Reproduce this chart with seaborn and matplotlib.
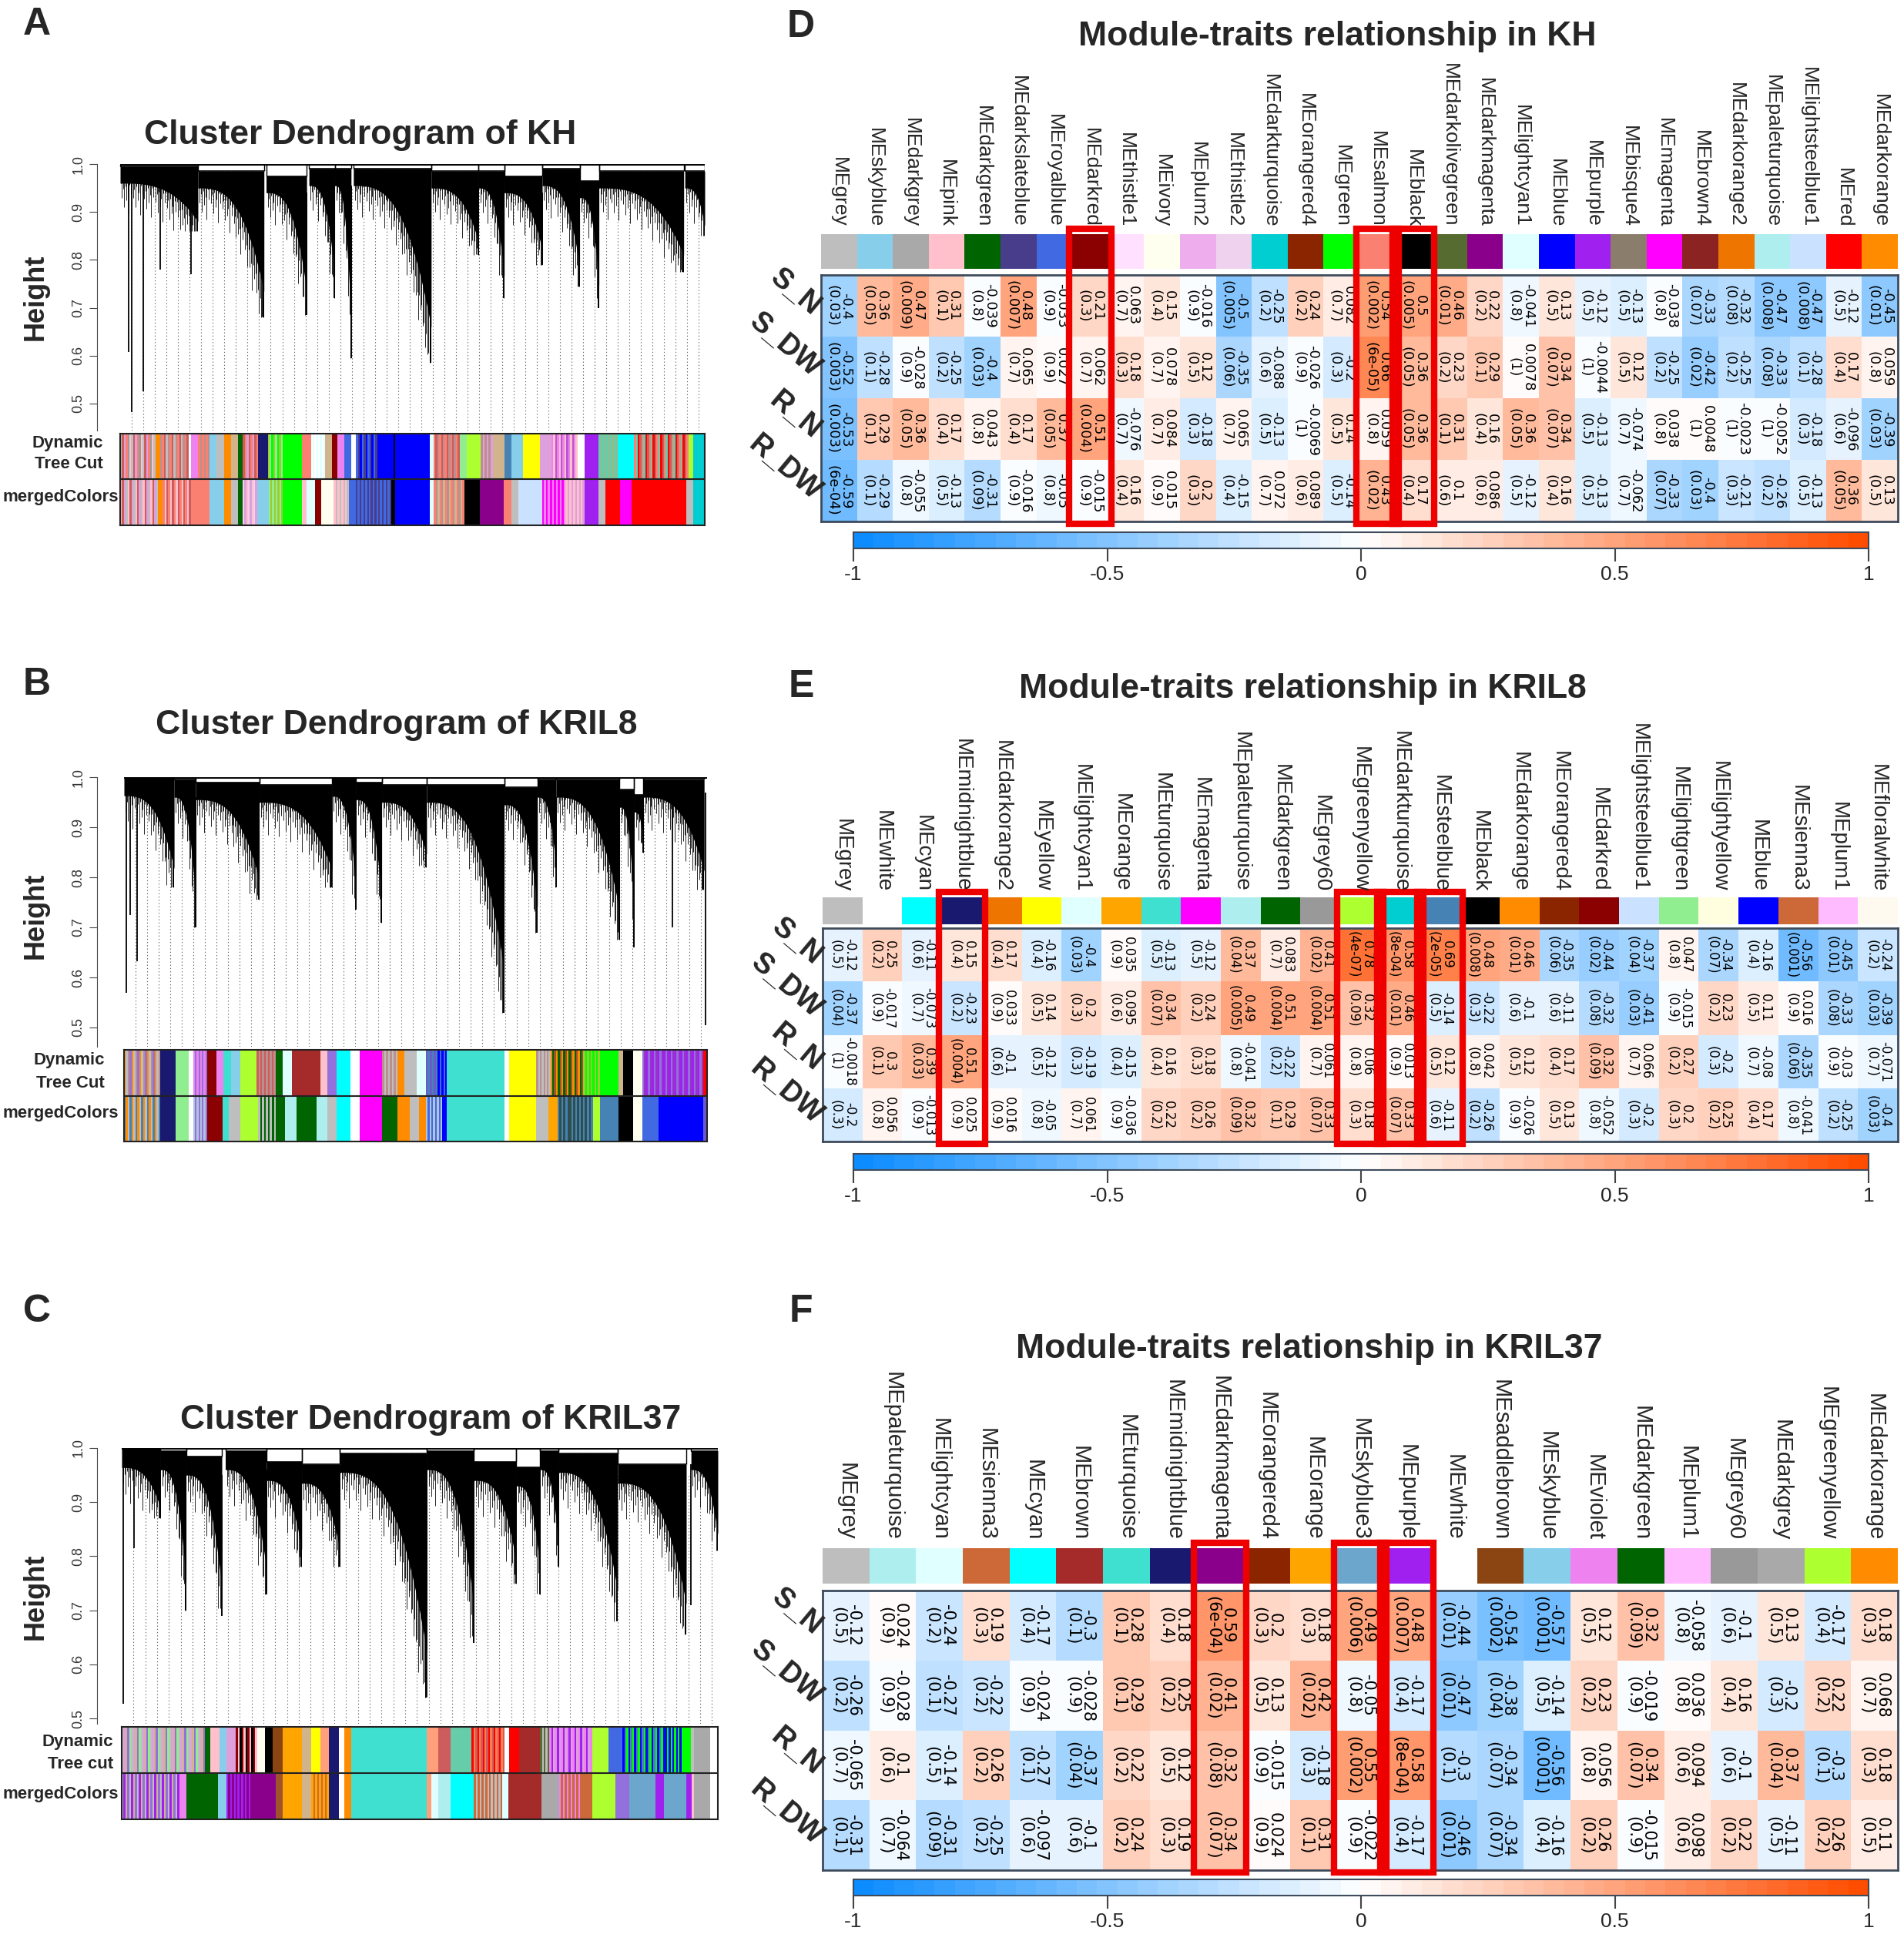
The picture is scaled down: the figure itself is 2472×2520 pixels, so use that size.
import numpy as np
import pandas as pd
import seaborn as sns
import matplotlib
matplotlib.use("Agg")
import matplotlib.pyplot as plt
from matplotlib.colors import LinearSegmentedColormap
from matplotlib.patches import Rectangle

# ---------------- module-trait data ----------------
traits = ["S_N", "S_DW", "R_N", "R_DW"]

kh_modules = ["MEgrey", "MEskyblue", "MEdarkgrey", "MEpink", "MEdarkgreen", "MEdarkslateblue",
              "MEroyalblue", "MEdarkred", "MEthistle1", "MEivory", "MEplum2", "MEthistle2",
              "MEdarkturquoise", "MEorangered4", "MEgreen", "MEsalmon", "MEblack",
              "MEdarkolivegreen", "MEdarkmagenta", "MElightcyan1", "MEblue", "MEpurple",
              "MEbisque4", "MEmagenta", "MEbrown4", "MEdarkorange2", "MEpaleturquoise",
              "MElightsteelblue1", "MEred", "MEdarkorange"]
kh_cor = [
    [-0.4, 0.36, 0.47, 0.31, -0.039, 0.48, -0.033, 0.21, 0.063, 0.15, -0.016, -0.5, -0.25, 0.24, 0.082,
     0.54, 0.5, 0.46, 0.22, -0.041, 0.13, -0.12, -0.13, -0.038, -0.33, -0.32, -0.47, -0.47, -0.12, -0.45],
    [-0.52, -0.28, -0.028, -0.25, -0.4, 0.065, 0.027, 0.062, 0.18, 0.078, 0.12, -0.35, -0.088, -0.026, -0.2,
     0.66, 0.36, 0.23, 0.29, 0.0078, 0.34, -0.0044, 0.12, -0.25, -0.42, -0.25, -0.33, -0.28, 0.17, 0.059],
    [-0.53, 0.29, 0.36, 0.17, 0.043, 0.17, 0.37, 0.51, -0.076, 0.084, -0.18, 0.065, -0.13, -0.0069, 0.14,
     0.059, 0.36, 0.31, 0.16, 0.36, 0.34, -0.13, -0.074, 0.038, 0.0048, -0.0023, -0.0052, -0.18, -0.096, -0.39],
    [-0.59, -0.29, -0.055, -0.13, -0.31, -0.016, -0.05, -0.015, 0.16, 0.015, 0.2, -0.15, 0.072, 0.089, -0.14,
     0.43, 0.17, 0.1, 0.086, -0.12, 0.16, -0.13, -0.062, -0.33, -0.4, -0.21, -0.26, -0.13, 0.36, 0.13],
]
kh_p = [
    ["0.03", "0.05", "0.009", "0.1", "0.8", "0.007", "0.9", "0.3", "0.7", "0.4", "0.9", "0.005", "0.2", "0.2", "0.7",
     "0.002", "0.005", "0.01", "0.2", "0.8", "0.5", "0.5", "0.5", "0.8", "0.07", "0.08", "0.008", "0.008", "0.5", "0.01"],
    ["0.003", "0.1", "0.9", "0.2", "0.03", "0.7", "0.9", "0.7", "0.3", "0.7", "0.5", "0.06", "0.6", "0.9", "0.3",
     "6e-05", "0.05", "0.2", "0.1", "1", "0.07", "1", "0.5", "0.2", "0.02", "0.2", "0.08", "0.1", "0.4", "0.8"],
    ["0.003", "0.1", "0.05", "0.4", "0.8", "0.4", "0.05", "0.004", "0.7", "0.7", "0.3", "0.7", "0.5", "1", "0.5",
     "0.8", "0.05", "0.1", "0.4", "0.05", "0.07", "0.5", "0.7", "0.8", "1", "1", "1", "0.3", "0.6", "0.03"],
    ["6e-04", "0.1", "0.8", "0.5", "0.09", "0.9", "0.8", "0.9", "0.4", "0.9", "0.3", "0.4", "0.7", "0.6", "0.5",
     "0.02", "0.4", "0.6", "0.6", "0.5", "0.4", "0.5", "0.7", "0.07", "0.03", "0.3", "0.2", "0.5", "0.05", "0.5"],
]
kh_boxes = [[7], [15], [16]]

kril8_modules = ["MEgrey", "MEwhite", "MEcyan", "MEmidnightblue", "MEdarkorange2", "MEyellow",
                 "MElightcyan1", "MEorange", "MEturquoise", "MEmagenta", "MEpaleturquoise", "MEdarkgreen",
                 "MEgrey60", "MEgreenyellow", "MEdarkturquoise", "MEsteelblue", "MEblack", "MEdarkorange",
                 "MEorangered4", "MEdarkred", "MElightsteelblue1", "MElightgreen", "MElightyellow",
                 "MEblue", "MEsienna3", "MEplum1", "MEfloralwhite"]
kril8_cor = [
    [-0.12, 0.25, -0.11, 0.15, 0.17, -0.16, -0.4, 0.035, -0.13, -0.12, 0.37, 0.083, 0.41, 0.78,
     0.58, 0.69, 0.48, 0.46, -0.35, -0.44, -0.37, 0.047, -0.34, -0.16, -0.56, -0.45, -0.24],
    [-0.37, -0.017, -0.073, -0.23, 0.033, 0.14, 0.2, 0.095, 0.34, 0.24, 0.49, 0.51, 0.51, 0.32,
     0.46, -0.14, -0.22, -0.1, -0.11, -0.32, -0.41, -0.015, 0.23, 0.11, 0.016, -0.33, -0.39],
    [-0.0018, 0.3, 0.39, 0.51, -0.1, -0.12, -0.19, -0.15, 0.16, 0.18, -0.041, -0.22, 0.061, 0.06,
     0.013, 0.12, 0.042, 0.12, 0.17, 0.32, 0.066, 0.27, -0.2, -0.08, -0.35, -0.03, -0.071],
    [-0.2, 0.056, -0.013, 0.025, 0.016, -0.05, 0.061, -0.036, 0.22, 0.26, 0.32, 0.29, 0.33, 0.18,
     0.33, -0.11, -0.26, -0.026, 0.13, -0.052, -0.2, 0.2, 0.25, 0.17, -0.041, -0.25, -0.4],
]
kril8_p = [
    ["0.5", "0.2", "0.6", "0.4", "0.4", "0.4", "0.03", "0.9", "0.5", "0.5", "0.04", "0.7", "0.02", "4e-07",
     "8e-04", "2e-05", "0.008", "0.01", "0.06", "0.02", "0.04", "0.8", "0.07", "0.4", "0.001", "0.01", "0.2"],
    ["0.04", "0.9", "0.7", "0.2", "0.9", "0.5", "0.3", "0.6", "0.07", "0.2", "0.005", "0.004", "0.004", "0.09",
     "0.01", "0.5", "0.3", "0.6", "0.6", "0.08", "0.03", "0.9", "0.2", "0.5", "0.9", "0.08", "0.03"],
    ["1", "0.1", "0.03", "0.004", "0.6", "0.5", "0.3", "0.4", "0.4", "0.3", "0.8", "0.2", "0.7", "0.8",
     "0.9", "0.5", "0.8", "0.5", "0.4", "0.09", "0.7", "0.2", "0.3", "0.7", "0.06", "0.9", "0.7"],
    ["0.3", "0.8", "0.9", "0.9", "0.9", "0.8", "0.7", "0.9", "0.2", "0.2", "0.09", "0.1", "0.07", "0.3",
     "0.07", "0.6", "0.2", "0.9", "0.5", "0.8", "0.3", "0.3", "0.2", "0.4", "0.8", "0.2", "0.03"],
]
kril8_boxes = [[3], [13], [14], [15]]

kril37_modules = ["MEgrey", "MEpaleturquoise", "MElightcyan", "MEsienna3", "MEcyan", "MEbrown",
                  "MEturquoise", "MEmidnightblue", "MEdarkmagenta", "MEorangered4", "MEorange",
                  "MEskyblue3", "MEpurple", "MEwhite", "MEsaddlebrown", "MEskyblue", "MEviolet",
                  "MEdarkgreen", "MEplum1", "MEgrey60", "MEdarkgrey", "MEgreenyellow", "MEdarkorange"]
kril37_cor = [
    [-0.12, 0.024, -0.24, 0.19, -0.17, -0.3, 0.28, 0.18, 0.59, 0.2, 0.18, 0.49, 0.48, -0.44, -0.54,
     -0.57, 0.12, 0.32, -0.058, -0.1, 0.13, -0.17, 0.18],
    [-0.26, -0.028, -0.27, -0.22, -0.024, -0.028, 0.29, 0.25, 0.41, 0.13, 0.42, -0.05, -0.17, -0.47, -0.38,
     -0.14, 0.23, -0.019, 0.036, 0.16, -0.2, 0.22, 0.068],
    [-0.065, 0.1, -0.14, 0.26, -0.27, -0.37, 0.22, 0.12, 0.32, -0.015, -0.18, 0.55, 0.58, -0.3, -0.34,
     -0.56, 0.056, 0.34, 0.094, -0.1, 0.37, -0.3, 0.18],
    [-0.31, -0.064, -0.31, -0.25, -0.097, -0.1, 0.24, 0.19, 0.34, 0.024, 0.31, -0.022, -0.17, -0.46, -0.34,
     -0.16, 0.26, -0.015, 0.098, 0.22, -0.11, 0.26, 0.11],
]
kril37_p = [
    ["0.5", "0.9", "0.2", "0.3", "0.4", "0.1", "0.1", "0.4", "6e-04", "0.3", "0.3", "0.006", "0.007", "0.01",
     "0.002", "0.001", "0.5", "0.09", "0.8", "0.6", "0.5", "0.4", "0.3"],
    ["0.2", "0.9", "0.1", "0.2", "0.9", "0.9", "0.1", "0.2", "0.02", "0.5", "0.02", "0.8", "0.4", "0.01",
     "0.04", "0.5", "0.2", "0.9", "0.8", "0.4", "0.3", "0.2", "0.7"],
    ["0.7", "0.6", "0.5", "0.2", "0.1", "0.04", "0.2", "0.5", "0.08", "0.9", "0.3", "0.002", "8e-04", "0.1",
     "0.07", "0.001", "0.8", "0.07", "0.6", "0.6", "0.04", "0.1", "0.3"],
    ["0.1", "0.7", "0.09", "0.2", "0.6", "0.6", "0.2", "0.3", "0.07", "0.9", "0.1", "0.9", "0.4", "0.01",
     "0.07", "0.4", "0.2", "0.9", "0.6", "0.2", "0.5", "0.2", "0.5"],
]
kril37_boxes = [[8], [11], [12]]

# ---------------- dendrogram data ----------------
# branches: (start, end) as fraction of leaves, merge height, lowest leaf height
kh_branches = [(0.0, 0.133, 0.995, 0.86), (0.133, 0.246, 0.985, 0.68), (0.250, 0.319, 0.975, 0.685),
               (0.323, 0.367, 0.99, 0.72), (0.367, 0.395, 0.99, 0.595), (0.399, 0.532, 0.99, 0.585),
               (0.532, 0.613, 0.985, 0.81), (0.613, 0.657, 0.985, 0.72), (0.657, 0.722, 0.975, 0.79),
               (0.722, 0.786, 0.99, 0.745), (0.786, 0.819, 0.965, 0.70), (0.819, 0.964, 0.985, 0.775),
               (0.966, 1.0, 0.985, 0.85)]
kh_single = [(0.015, 0.608), (0.020, 0.483), (0.040, 0.526), (0.069, 0.78), (0.121, 0.77)]

kril8_branches = [(0.0, 0.086, 0.998, 0.78), (0.086, 0.123, 0.995, 0.70), (0.123, 0.232, 0.99, 0.755),
                  (0.232, 0.357, 0.985, 0.78), (0.357, 0.398, 0.997, 0.735), (0.398, 0.442, 0.99, 0.71),
                  (0.442, 0.519, 0.985, 0.82), (0.519, 0.652, 0.985, 0.53), (0.652, 0.709, 0.98, 0.69),
                  (0.709, 0.741, 0.995, 0.78), (0.741, 0.850, 0.995, 0.675), (0.850, 0.875, 0.975, 0.66),
                  (0.875, 0.891, 0.965, 0.85), (0.891, 0.995, 0.995, 0.775)]
kril8_single = [(0.004, 0.569), (0.011, 0.725), (0.022, 0.632), (0.941, 0.70), (0.998, 0.505)]

kril37_branches = [(0.0, 0.065, 0.999, 0.87), (0.065, 0.108, 0.995, 0.70), (0.108, 0.168, 0.985, 0.69),
                   (0.174, 0.243, 0.995, 0.73), (0.243, 0.302, 0.975, 0.78), (0.302, 0.366, 0.97, 0.78),
                   (0.366, 0.512, 0.99, 0.538), (0.512, 0.591, 0.995, 0.64), (0.591, 0.662, 0.975, 0.75),
                   (0.662, 0.702, 0.965, 0.73), (0.702, 0.733, 0.995, 0.78), (0.733, 0.832, 0.99, 0.68),
                   (0.832, 0.947, 0.97, 0.655), (0.955, 1.0, 0.995, 0.81)]
kril37_single = [(0.003, 0.527), (0.021, 0.815), (0.955, 0.71)]

# colour bands: (colour or "a|b|c" for a run of thin stripes, relative width)
kh_dynamic = [("grey|indianred|plum|salmon|grey60|pink", 75), ("darkorange", 10),
              ("rosybrown|salmon|indianred|grey", 60), ("white", 5), ("violet", 15), ("salmon|rosybrown", 25),
              ("skyblue", 15), ("grey", 15), ("darkorange", 15), ("tan", 15), ("darkgreen", 10),
              ("indianred|salmon|plum", 33), ("midnightblue", 20), ("yellowgreen|lightgreen|green", 32),
              ("green", 40), ("salmon", 20), ("white|lightcyan", 30), ("tan", 15), ("darkred", 10),
              ("violet", 15), ("royalblue", 15), ("white", 10), ("royalblue|darkslateblue|blue", 45),
              ("blue", 35), ("black", 3), ("blue", 74), ("lightcyan", 8), ("salmon|indianred|rosybrown", 55),
              ("lightgreen", 15), ("greenyellow", 30), ("rosybrown|plum", 25), ("tan", 25), ("steelblue", 15),
              ("skyblue", 25), ("yellow", 35), ("plum", 25), ("violet|pink|mediumorchid", 55), ("white", 15),
              ("purple", 30), ("mediumaquamarine|darkseagreen", 40), ("cyan", 35),
              ("salmon|mediumaquamarine|red|indianred", 115), ("greenyellow", 10), ("darkturquoise", 25)]
kh_merged = [("pink|indianred|plum|grey", 80), ("darkorange", 10), ("salmon|pink|indianred", 60),
             ("salmon", 40), ("skyblue", 30), ("darkorange", 15), ("grey", 15), ("darkgreen", 10),
             ("thistle2|plum|pink", 30), ("skyblue", 25), ("lightgreen|yellowgreen", 30), ("green", 40),
             ("pink", 10), ("lightcyan", 18), ("darkred", 14), ("ivory", 26), ("pink|grey", 32),
             ("royalblue", 15), ("darkslateblue|royalblue", 75), ("black", 8), ("blue", 74), ("lightcyan", 8),
             ("salmon|rosybrown|tan", 65), ("black", 33), ("darkmagenta", 50), ("salmon", 17), ("grey", 15),
             ("lightsteelblue1", 50), ("magenta|violet", 50), ("pink|plum", 40), ("purple", 30), ("grey", 15),
             ("red", 30), ("magenta", 25), ("red", 115), ("grey", 15), ("darkturquoise", 25)]

kril8_dynamic = [("darkorange|grey|rosybrown|mediumpurple", 77), ("midnightblue", 32), ("lightgreen", 28),
                 ("white", 10), ("violet|mediumpurple", 30), ("darkred", 20), ("violet", 15), ("turquoise", 15),
                 ("skyblue", 20), ("greenyellow", 35), ("indianred|rosybrown", 40), ("darkgreen", 15),
                 ("lightcyan", 20), ("brown", 60), ("pink", 15), ("mediumpurple", 20), ("cyan", 30),
                 ("white", 20), ("magenta", 47), ("rosybrown|grey", 33), ("darkorange", 15), ("grey", 25),
                 ("lightcyan", 20), ("slateblue|steelblue", 25), ("blue|royalblue", 20), ("turquoise", 122),
                 ("white", 10), ("yellow", 58), ("rosybrown|grey", 30), ("darkorange|darkgreen|sienna", 70),
                 ("yellowgreen|green", 35), ("green", 40), ("tan", 10), ("black", 20), ("ivory", 20),
                 ("mediumpurple|darkorchid|purple", 130), ("red", 8)]
kril8_merged = [("steelblue|darkorange|grey", 77), ("midnightblue", 32), ("lightgreen", 28), ("white", 10),
                ("lightsteelblue|mediumpurple", 30), ("darkred", 32), ("turquoise", 13), ("grey", 25),
                ("greenyellow", 38), ("grey|darkgreen", 42), ("darkgreen", 15), ("paleturquoise", 25),
                ("darkgreen", 42), ("paleturquoise", 23), ("grey", 20), ("cyan", 30), ("white", 20),
                ("magenta", 47), ("darkgreen", 33), ("darkorange", 25), ("grey", 20), ("darkorange", 15),
                ("lightsteelblue|royalblue", 35), ("blue", 10), ("turquoise", 122), ("white", 10),
                ("yellow", 58), ("grey", 25), ("orange", 20), ("steelblue|darkslategray", 25),
                ("darkslategray|steelblue", 50), ("greenyellow", 15), ("steelblue", 40), ("black", 30),
                ("ivory", 20), ("royalblue", 35), ("blue", 95), ("slateblue", 8)]

kril37_dynamic = [("grey|plum|tan|mediumpurple|lightgreen", 177), ("darkgreen", 10), ("pink", 20),
                  ("skyblue", 15), ("plum", 20), ("darkred|pink|black", 45), ("ivory", 17), ("black", 16),
                  ("saddlebrown", 22), ("orange", 40), ("tan", 20), ("yellow", 20), ("lightsalmon", 17),
                  ("midnightblue", 21), ("white", 12), ("darkorange", 15), ("turquoise", 160),
                  ("lightsalmon", 25), ("indianred", 25), ("mediumaquamarine", 45), ("red|coral|indianred", 70),
                  ("white", 10), ("red", 20), ("brown", 45), ("darkolivegreen|grey", 20),
                  ("violet|purple|plum", 90), ("greenyellow", 35), ("royalblue", 30),
                  ("blue|steelblue|green", 90), ("blue|green", 35), ("green", 20), ("grey", 7),
                  ("darkgrey", 33), ("white", 17)]
kril37_merged = [("grey|purple|tan|mediumpurple", 122), ("violet", 15), ("darkgreen", 67), ("skyblue", 18),
                 ("purple|darkmagenta", 55), ("darkmagenta", 50), ("sienna", 15), ("orange", 40), ("tan", 20),
                 ("orange|sienna3", 37), ("midnightblue", 21), ("white", 12), ("darkorange", 15),
                 ("turquoise", 160), ("lightsalmon", 10), ("lightcyan", 15), ("paleturquoise", 25),
                 ("cyan", 50), ("sienna3|grey", 60), ("lightcyan", 13), ("brown", 70), ("darkgrey", 37),
                 ("violet|sienna3", 45), ("sienna3", 25), ("greenyellow", 50), ("mediumpurple", 30),
                 ("skyblue3", 55), ("purple", 17), ("skyblue3", 48), ("purple", 12), ("pink", 5),
                 ("darkgrey", 33), ("white", 17)]

# R colour names that differ from / are missing in matplotlib
R_COLS = {"grey": "#BEBEBE", "green": "#00FF00", "purple": "#A020F0", "grey60": "#999999",
          "thistle1": "#FFE1FF", "thistle2": "#EED2EE", "plum1": "#FFBBFF", "plum2": "#EEAEEE",
          "orangered4": "#8B2500", "lightcyan1": "#E0FFFF", "bisque4": "#8B7D6B", "brown4": "#8B2323",
          "darkorange2": "#EE7600", "lightsteelblue1": "#CAE1FF", "sienna3": "#CD6839", "skyblue3": "#6CA6CD"}


def rcol(name):
    return R_COLS.get(name, name)


# ---------------- figure ----------------
sns.set_style("white")
plt.rcParams["font.family"] = ["Liberation Sans", "DejaVu Sans"]
plt.rcParams["axes.unicode_minus"] = False

W, H = 2472, 2520
fig = plt.figure(figsize=(W / 100, H / 100), dpi=100)
fig.patch.set_facecolor("white")

cmap = LinearSegmentedColormap.from_list("bwr_wgcna", [(0.05, 0.55, 1.0), (1, 1, 1), (1.0, 0.3, 0.0)], N=50)


def add_ax(x0, y0, x1, y1):
    return fig.add_axes([x0 / W, 1 - y1 / H, (x1 - x0) / W, (y1 - y0) / H])


def ftext(x, y, s, **kw):
    return fig.text(x / W, 1 - y / H, s, **kw)


def stripes(segs):
    total = float(sum(w for _, w in segs))
    out = []
    pos = 0.0
    for spec, w in segs:
        cols = spec.split("|")
        n = 1 if len(cols) == 1 else max(len(cols), int(round(w / 4)))
        for k in range(n):
            out.append((pos / total, w / n / total, rcol(cols[k % len(cols)])))
            pos += w / n
    return out


# hair lengths below the solid part of a branch (drawing texture only)
HAIR = [0.0, 0.03, 0.012, 0.05, 0.006, 0.035, 0.018, 0.065, 0.003, 0.022]


def dendro_panel(lay, branches, single, title, dyn, mer, cut_label, letter):
    x_axis, x0, x1, y10, per = lay["axis"], lay["x0"], lay["x1"], lay["y10"], lay["per"]
    bt, bm, bb = lay["bands"]
    ytop = 1.004
    ybot = 1 - (bt - 4 - y10) / (per * 10)
    ax = add_ax(x_axis, y10 - (ytop - 1) * per * 10, x1, bt - 4)
    ax.set_xlim(-(x0 - x_axis) / (x1 - x0), 1.0)
    ax.set_ylim(ybot, ytop)

    guides = np.linspace(0.02, 0.99, 50)
    ax.vlines(guides, ybot, 0.95, colors="#666666", linestyles=(0, (1.2, 2.6)), linewidth=0.8, zorder=0)
    root = 0.998
    ax.hlines(root, 0, 1, colors="black", linewidth=1.4)
    for a, b, m, low in branches:
        d0 = min(0.035, (m - low) * 0.3)
        span = m - d0 - low
        u = np.linspace(0, 1, 80)
        solid = (m - d0) - span * 0.8 * u ** 3
        ax.fill_between(a + (b - a) * u, solid, m, color="black", linewidth=0, zorder=2)
        n = max(8, int((b - a) * 520))
        uk = (np.arange(n) + 0.5) / n
        hb = (m - d0) - span * uk ** 3 - np.array([HAIR[k % len(HAIR)] for k in range(n)])
        ax.vlines(a + (b - a) * uk, np.maximum(hb, low), m, colors="black", linewidth=0.6, zorder=2)
        ax.vlines(b - (b - a) * 0.01, low, m - d0, colors="black", linewidth=1.4, zorder=2)
        ax.hlines(m, a, b, colors="black", linewidth=1.2, zorder=2)
        ax.vlines([a, b], m, root, colors="black", linewidth=1.0, zorder=2)
    for sx, sl in single:
        ax.vlines(sx, sl, 0.97, colors="black", linewidth=1.3, zorder=2)

    for s in ["top", "right", "bottom"]:
        ax.spines[s].set_visible(False)
    ax.spines["left"].set_bounds(ybot, 1.0)
    ax.spines["left"].set_color("#444444")
    ax.set_xticks([])
    ticks = [0.5, 0.6, 0.7, 0.8, 0.9, 1.0]
    ax.set_yticks(ticks)
    ax.set_yticklabels([f"{t:.1f}" for t in ticks], rotation=90, va="center", fontsize=13, color="#333333")
    ax.tick_params(axis="y", length=7, color="#444444", pad=4, left=True)

    axb = add_ax(x0, bt, x1, bb)
    for row, segs in ((1, dyn), (0, mer)):
        st = stripes(segs)
        axb.bar([s[0] for s in st], 1, width=[s[1] for s in st], bottom=row, align="edge",
                color=[s[2] for s in st], linewidth=0)
    axb.set_xlim(0, 1)
    axb.set_ylim(0, 2)
    axb.axhline(1, color="#222222", linewidth=1.5)
    axb.set_xticks([])
    axb.set_yticks([])
    for s in axb.spines.values():
        s.set_color("#222222")
        s.set_linewidth(1.5)

    ftext(lay["title_x"], lay["title_y"], title, ha="center", va="center", fontsize=32, fontweight="bold")
    ftext(46, lay["height_y"], "Height", rotation=90, ha="center", va="center", fontsize=26, fontweight="bold")
    ftext(lay["dyn_x"], lay["lab_y"][0], "Dynamic", ha="right", va="center", fontsize=16, fontweight="bold")
    ftext(lay["dyn_x"], lay["lab_y"][1], cut_label, ha="right", va="center", fontsize=16, fontweight="bold")
    ftext(154, lay["lab_y"][2], "mergedColors", ha="right", va="center", fontsize=16, fontweight="bold")
    ftext(48, lay["letter_y"], letter, ha="center", va="center", fontsize=36, fontweight="bold")


def trait_panel(lay, modules, cor, pvals, boxes, title, letter):
    n = len(modules)
    x0, x1 = lay["x0"], lay["x1"]
    cw = (x1 - x0) / n
    c0, c1 = lay["color"]
    h0, h1 = lay["cells"]
    rh = (h1 - h0) / len(traits)

    axc = add_ax(x0, c0, x1, c1)
    axc.bar(np.arange(n), 1, width=1, align="edge", color=[rcol(m[2:]) for m in modules], linewidth=0)
    axc.set_xlim(0, n)
    axc.set_ylim(0, 1)
    axc.axis("off")

    df = pd.DataFrame(cor, index=traits, columns=modules)
    annot = np.array([[f"{v:.2g}\n({p})" for v, p in zip(rv, rp)] for rv, rp in zip(cor, pvals)])
    axh = add_ax(x0, h0, x1, h1)
    sns.heatmap(df, ax=axh, cmap=cmap, vmin=-1, vmax=1, cbar=False, annot=annot, fmt="",
                annot_kws=dict(rotation=-90, fontsize=lay["cell_fs"], color="black", linespacing=1.0,
                               family="DejaVu Sans"),
                xticklabels=False, yticklabels=False)
    for s in axh.spines.values():
        s.set_visible(True)
        s.set_color("#3d4b5c")
        s.set_linewidth(2)

    for i, t in enumerate(traits):
        ftext(x0 - 5, h0 + (i + 0.5) * rh + 6, t, rotation=-40, rotation_mode="anchor",
              ha="right", va="center", fontsize=27, fontweight="bold")
    for j, m in enumerate(modules):
        ftext(x0 + (j + 0.5) * cw, lay["lab_bottom"], m, rotation=-90, rotation_mode="anchor",
              ha="right", va="center", fontsize=lay["lab_fs"])

    cb0 = lay["cb"]
    cax = add_ax(1108, cb0, 2426, cb0 + 21)
    cb = fig.colorbar(axh.collections[0], cax=cax, orientation="horizontal", ticks=[-1, -0.5, 0, 0.5, 1])
    cb.ax.set_xticklabels(["-1", "-0.5", "0", "0.5", "1"], fontsize=19)
    cb.ax.tick_params(length=12, width=1.5, color="#444444", pad=4)
    cb.outline.set_edgecolor("#3d4b5c")
    cb.outline.set_linewidth(1.5)

    for grp in boxes:
        bx0 = x0 + grp[0] * cw - 4
        bx1 = x0 + (grp[-1] + 1) * cw + 4
        fig.add_artist(Rectangle((bx0 / W, 1 - (h1 + 3) / H), (bx1 - bx0) / W, (h1 + 3 - (c0 - 7)) / H,
                                 transform=fig.transFigure, fill=False, edgecolor="#EE0000", linewidth=6))

    ftext(lay["title_x"], lay["title_y"], title, ha="center", va="center", fontsize=32, fontweight="bold")
    ftext(1040, lay["letter_y"], letter, ha="center", va="center", fontsize=36, fontweight="bold")


dendro_panel(dict(axis=126, x0=156, x1=915, y10=213, per=62.2, bands=(563, 622, 682), title_x=468, title_y=175,
                  height_y=386, dyn_x=134, lab_y=(575, 602, 646), letter_y=32),
             kh_branches, kh_single, "Cluster Dendrogram of KH", kh_dynamic, kh_merged, "Tree Cut", "A")
dendro_panel(dict(axis=126, x0=161, x1=918, y10=1009, per=65.0, bands=(1363, 1422, 1482), title_x=515,
                  title_y=942, height_y=1189, dyn_x=136, lab_y=(1377, 1406, 1445), letter_y=889),
             kril8_branches, kril8_single, "Cluster Dendrogram of KRIL8", kril8_dynamic, kril8_merged,
             "Tree Cut", "B")
dendro_panel(dict(axis=126, x0=158, x1=932, y10=1880, per=70.2, bands=(2242, 2302, 2362), title_x=559,
                  title_y=1843, height_y=2073, dyn_x=147, lab_y=(2261, 2290, 2329), letter_y=1703),
             kril37_branches, kril37_single, "Cluster Dendrogram of KRIL37", kril37_dynamic, kril37_merged,
             "Tree cut", "C")

trait_panel(dict(x0=1066, x1=2464, color=(304, 349), cells=(357, 677), lab_bottom=295, cb=691,
                 cell_fs=13, lab_fs=19, title_x=1736, title_y=48, letter_y=35),
            kh_modules, kh_cor, kh_p, kh_boxes, "Module-traits relationship in KH", "D")
trait_panel(dict(x0=1068, x1=2464, color=(1165, 1200), cells=(1205, 1482), lab_bottom=1158, cb=1498,
                 cell_fs=12, lab_fs=20, title_x=1691, title_y=894, letter_y=892),
            kril8_modules, kril8_cor, kril8_p, kril8_boxes, "Module-traits relationship in KRIL8", "E")
trait_panel(dict(x0=1068, x1=2464, color=(2010, 2056), cells=(2065, 2428), lab_bottom=2000, cb=2440,
                 cell_fs=15, lab_fs=21, title_x=1700, title_y=1752, letter_y=1703),
            kril37_modules, kril37_cor, kril37_p, kril37_boxes, "Module-traits relationship in KRIL37", "F")

fig.savefig("out.png", dpi=100, facecolor="white")
